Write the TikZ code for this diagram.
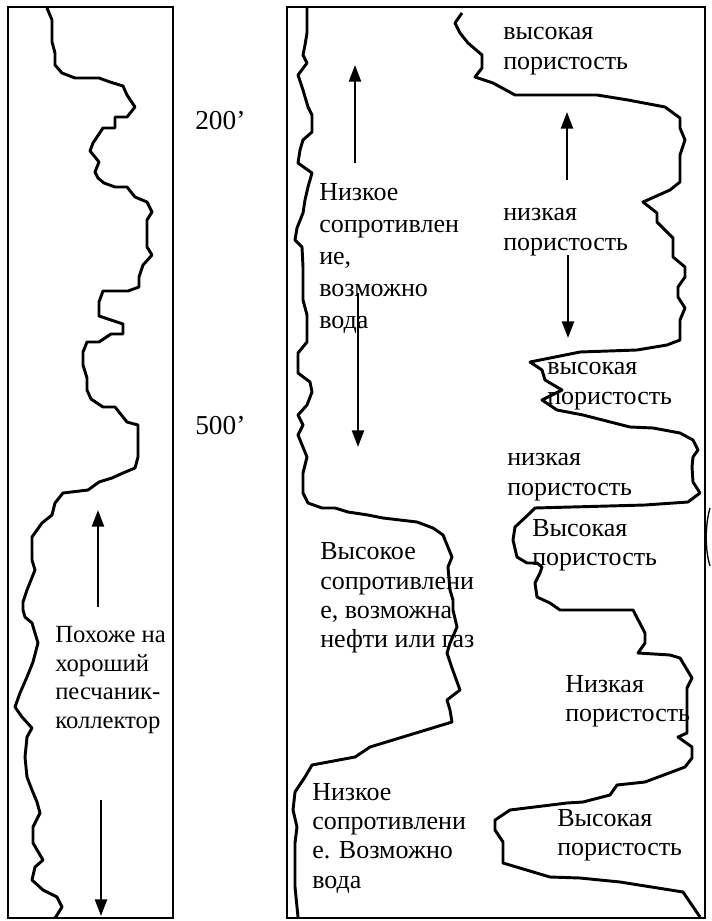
\documentclass[tikz,border=0pt]{standalone}
\usepackage{fontspec}
\setmainfont{Liberation Serif}
\usetikzlibrary{arrows.meta}
\begin{document}
\begin{tikzpicture}[x=0.75pt,y=-0.75pt,
  frame/.style={line width=2pt},
  trace/.style={line width=2.2pt, line join=round},
  lbl/.style={inner sep=0pt, align=left, anchor=west, font=\fontsize{19.5}{22}\selectfont},
  arr/.style={line width=1.8pt, -{Triangle[length=12.5pt,width=9pt]}}]
\useasboundingbox (0,0) rectangle (711,921);
% frames
\draw[frame] (8,7) rectangle (173,918);
\draw[frame] (287,7) rectangle (705,918);
% left trace
\draw[trace] (47,8) -- (52,20) -- (52,42) -- (55,53) -- (55,65) -- (62,73) -- (75,78) -- (99,78) -- (110,82) -- (123,86) -- (127,95) -- (135,107) -- (127,117) -- (115,117) -- (115,128) -- (103,128) -- (97,137) -- (93,143) -- (90,151) -- (95,157) -- (99,162) -- (95,172) -- (98,178) -- (104,183) -- (115,187) -- (127,187) -- (135,197) -- (147,202) -- (152,212) -- (147,220) -- (147,247) -- (152,255) -- (143,265) -- (139,277) -- (139,287) -- (128,291) -- (103,291) -- (99,302) -- (99,316) -- (123,324) -- (123,334) -- (111,334) -- (99,342) -- (87,342) -- (83,352) -- (83,365) -- (87,378) -- (87,390) -- (91,399) -- (103,407) -- (115,407) -- (127,422) -- (138,425) -- (138,457) -- (135,468) -- (123,473) -- (112,478) -- (99,482) -- (88,490) -- (63,493) -- (55,503) -- (52,515) -- (42,523) -- (32,537) -- (32,560) -- (35,570) -- (27,590) -- (23,602) -- (23,610) -- (25,617) -- (32,623) -- (38,643) -- (33,662) -- (27,677) -- (20,693) -- (15,707) -- (22,717) -- (32,728) -- (27,737) -- (25,757) -- (27,777) -- (32,790) -- (37,802) -- (40,813) -- (33,827) -- (33,843) -- (43,860) -- (35,867) -- (32,880) -- (43,890) -- (57,897) -- (62,907) -- (57,915) -- (55,918);
% right box, resistivity trace
\draw[trace] (307,8) -- (307,33) -- (305,45) -- (303,55) -- (307,63) -- (298,75) -- (303,90) -- (308,107) -- (312,115) -- (312,132) -- (303,140) -- (300,150) -- (298,163) -- (305,168) -- (312,173) -- (308,187) -- (305,200) -- (303,213) -- (297,228) -- (295,240) -- (302,247) -- (303,267) -- (303,300) -- (307,315) -- (307,342) -- (298,353) -- (298,373) -- (310,382) -- (312,392) -- (307,405) -- (298,415) -- (303,425) -- (298,435) -- (307,457) -- (303,473) -- (303,493) -- (308,503) -- (322,508) -- (335,508) -- (348,512) -- (368,515) -- (383,518) -- (400,520) -- (417,522) -- (433,528) -- (443,535) -- (452,557) -- (448,567) -- (450,590) -- (453,600) -- (453,610) -- (457,627) -- (450,643) -- (447,653) -- (452,668) -- (460,690) -- (447,700) -- (450,710) -- (452,722) -- (370,747) -- (355,757) -- (312,765) -- (305,777) -- (295,792) -- (293,810) -- (297,827) -- (295,843) -- (295,863) -- (295,887) -- (298,917);
% right box, porosity trace
\draw[trace] (462,13) -- (455,23) -- (460,33) -- (468,43) -- (482,55) -- (482,68) -- (475,77) -- (493,83) -- (515,95) -- (597,95) -- (628,100) -- (665,107) -- (680,118) -- (680,128) -- (685,140) -- (680,155) -- (680,182) -- (670,190) -- (643,202) -- (657,213) -- (657,222) -- (673,238) -- (673,257) -- (685,267) -- (685,277) -- (678,287) -- (678,297) -- (685,308) -- (680,320) -- (680,340) -- (667,345) -- (637,350) -- (580,352) -- (530,362) -- (542,370) -- (545,380) -- (562,390) -- (542,400) -- (557,410) -- (583,415) -- (630,427) -- (653,428) -- (680,433) -- (693,440) -- (698,450) -- (693,457) -- (692,467) -- (693,482) -- (700,493) -- (688,502) -- (645,505) -- (535,508) -- (530,513) -- (515,527) -- (513,540) -- (517,557) -- (527,563) -- (537,563) -- (542,567) -- (540,573) -- (535,583) -- (537,597) -- (550,603) -- (560,610) -- (633,610) -- (645,633) -- (645,643) -- (638,653) -- (670,655) -- (680,658) -- (692,678) -- (687,688) -- (687,733) -- (678,737) -- (692,747) -- (692,758) -- (685,767) -- (645,782) -- (617,785) -- (610,795) -- (583,802) -- (567,803) -- (510,810) -- (495,820) -- (495,830) -- (503,842) -- (503,863) -- (550,877) -- (580,878) -- (620,882) -- (683,892) -- (700,917);
% partial arc outside the frame
\draw[line width=1pt] (710,508) .. controls (705,525) and (705,550) .. (710,566);
% depth labels
\node[lbl, font=\fontsize{20.5}{22}\selectfont] (d200) at (195,121) {200’};
\node[lbl, font=\fontsize{20.5}{22}\selectfont] (d500) at (195,426) {500’};
% text labels
\node[lbl, font=\fontsize{18.5}{21.5}\selectfont] (sand) at (55,680) {Похоже на\\хороший\\песчаник-\\коллектор};
\node[lbl, font=\fontsize{19.5}{24}\selectfont] (lowres1) at (319,258) {Низкое\\сопротивлен\\ие,\\возможно\\вода};
\node[lbl] (highres) at (320,598) {Высокое\\сопротивлени\\е, возможна\\нефти или газ};
\node[lbl] (lowres2) at (312,838) {Низкое\\сопротивлени\\е. Возможно\\вода};
\node[lbl] (hp1) at (503,51) {высокая\\пористость};
\node[lbl] (lp1) at (503,232) {низкая\\пористость};
\node[lbl] (hp2) at (547,386) {высокая\\пористость};
\node[lbl] (lp2) at (507,477) {низкая\\пористость};
\node[lbl] (hp3) at (532,545) {Высокая\\пористость};
\node[lbl] (lp3) at (565,701) {Низкая\\пористость};
\node[lbl] (hp4) at (557,835) {Высокая\\пористость};
% arrow end points
\coordinate (a1s) at (98,607); \coordinate (a1e) at (98,510);
\coordinate (a2s) at (101,800); \coordinate (a2e) at (101,916);
\coordinate (a3s) at (355,163); \coordinate (a3e) at (355,65);
\coordinate (a4s) at (358,293); \coordinate (a4e) at (358,447);
\coordinate (a5s) at (567,180); \coordinate (a5e) at (567,112);
\coordinate (a6s) at (568,255); \coordinate (a6e) at (568,338);
\draw[arr] (a1s) -- (a1e);
\draw[arr] (a2s) -- (a2e);
\draw[arr] (a3s) -- (a3e);
\draw[arr] (a4s) -- (a4e);
\draw[arr] (a5s) -- (a5e);
\draw[arr] (a6s) -- (a6e);
\end{tikzpicture}
\end{document}
